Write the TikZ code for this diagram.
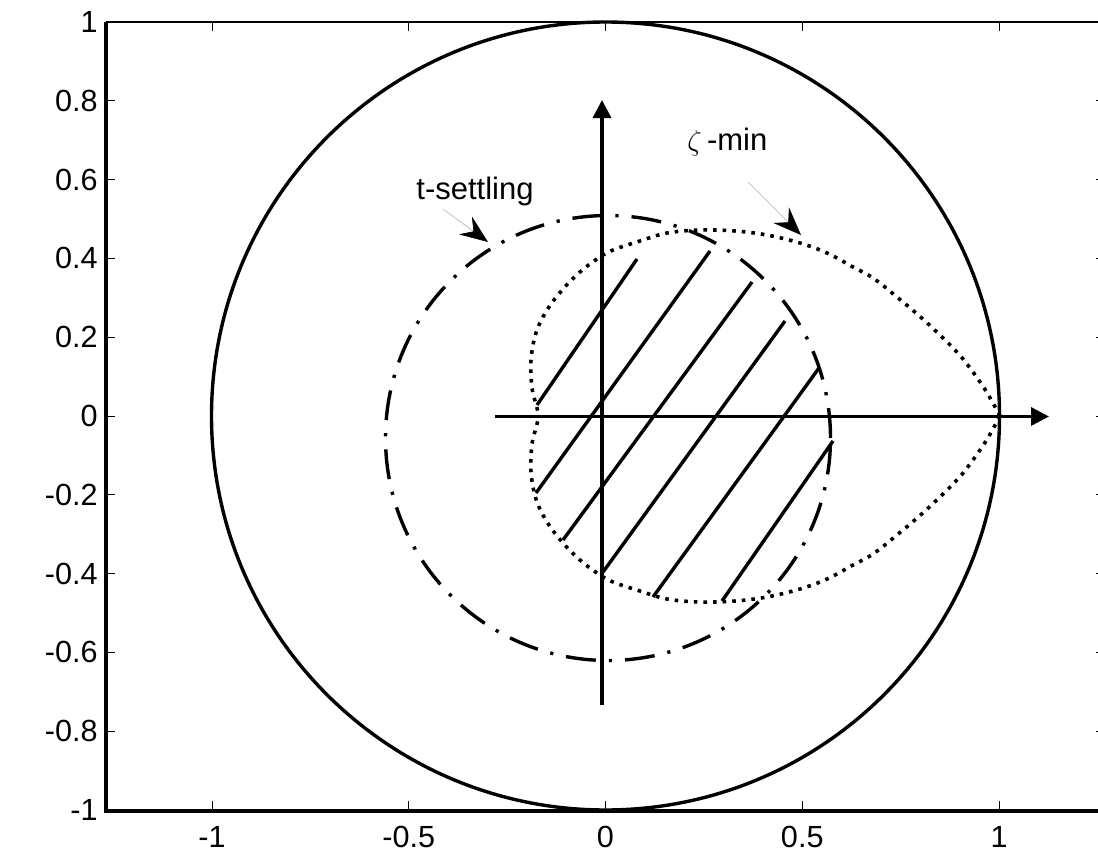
\documentclass[tikz,border=0pt]{standalone}
\usepackage{fontspec}
\setmainfont{Liberation Sans}
\usetikzlibrary{arrows.meta}
\begin{document}
\begin{tikzpicture}[x=0.5pt,y=-0.5pt,
  ticklab/.style={font=\fontsize{15.3}{18}\selectfont, inner sep=0pt},
  annot/.style={font=\fontsize{15.5}{18}\selectfont, inner sep=0pt},
  thickline/.style={line width=1.7pt},
  tsettle/.style={line width=1.7pt, dash pattern=on 15pt off 6.5pt on 1.6pt off 6.5pt},
  zetamin/.style={line width=1.8pt, dash pattern=on 1.8pt off 3pt},
  hatch/.style={line width=1.7pt},
  tickmark/.style={line width=0.5pt},
  pointer/.style={draw=gray!60, line width=0.3pt, -{Stealth[length=14pt,width=11pt,inset=5pt,black]}}
]
\useasboundingbox (0,0) rectangle (1098,851);
\fill[white] (0,0) rectangle (1098,851);
% axes box
\draw[line width=0.65pt] (106,22) -- (1105,22) -- (1105,811);
\draw[line width=1.6pt, line join=miter] (106,22) -- (106,811) -- (1105,811);
% y ticks and labels
\foreach \v/\lab [count=\i] in {1/1,0.8/0.8,0.6/0.6,0.4/0.4,0.2/0.2,0/0,-0.2/-0.2,-0.4/-0.4,-0.6/-0.6,-0.8/-0.8,-1/-1}{
  \pgfmathsetmacro{\py}{416-394*\v}
  \draw[tickmark] (106,\py) -- ++(9,0);
  \draw[tickmark] (1105,\py) -- ++(-9,0);
  \node[ticklab, anchor=east] (yt\i) at (98,\py) {\lab};
}
% x ticks and labels
\foreach \v/\lab [count=\i] in {-1/-1,-0.5/-0.5,0/0,0.5/0.5,1/1}{
  \pgfmathsetmacro{\px}{605.5+393.5*\v}
  \draw[tickmark] (\px,22) -- ++(0,9);
  \draw[tickmark] (\px,811) -- ++(0,-10);
  \node[ticklab, anchor=base] (xt\i) at (\px,847) {\lab};
}
% unit circle
\draw[thickline] (605.5,416) circle[radius=197pt];
% t-settling region
\draw[tsettle] (608,438) circle[radius=111.25pt];
% zeta-min region
\draw[zetamin] plot[smooth, tension=0.6] coordinates {(1000,416) (986,391) (970,368) (955,350) (925,321) (897,297) (873,278) (853,267) (827,253) (800,243) (767,235) (735,231) (700,230) (667,233) (640,241) (613,250) (597,259) (580,272) (563,289) (547,310) (536,333) (531,360) (532,388) (536,404) (539,416)};
\draw[zetamin] plot[smooth, tension=0.6] coordinates {(1000,416) (986,441) (970,464) (955,482) (925,511) (897,535) (873,554) (853,565) (827,579) (800,589) (767,597) (735,601) (700,602) (667,599) (640,591) (613,582) (597,573) (580,560) (563,543) (547,522) (536,499) (531,472) (532,444) (536,428) (539,416)};
% hatching
\draw[hatch] (537,405) -- (637,259);
\draw[hatch] (536,493) -- (710,251);
\draw[hatch] (563,540) -- (752,282);
\draw[hatch] (603,572) -- (785,321);
\draw[hatch] (653,597) -- (819,368);
\draw[hatch] (722,601) -- (833,441);
% axes arrows
\coordinate (rs) at (495,416.5);
\coordinate (re) at (1049,416.5);
\coordinate (is) at (602,705);
\coordinate (ie) at (602,100);
\draw[thickline, -{Triangle[length=9pt,width=9pt]}] (rs) -- (re);
\draw[thickline, -{Triangle[length=9pt,width=9pt]}] (is) -- (ie);
% labels
\node[annot, anchor=base west] (tslab) at (416,199) {t-settling};
\node[annot, anchor=base west] (zmlab) at (687,150) {$\zeta$\,-min};
\coordinate (tsA) at (443,209);
\coordinate (tsB) at (488,242);
\coordinate (zmA) at (748,182);
\coordinate (zmB) at (801,235);
\draw[pointer] (tsA) -- (tsB);
\draw[pointer] (zmA) -- (zmB);
\end{tikzpicture}
\end{document}
